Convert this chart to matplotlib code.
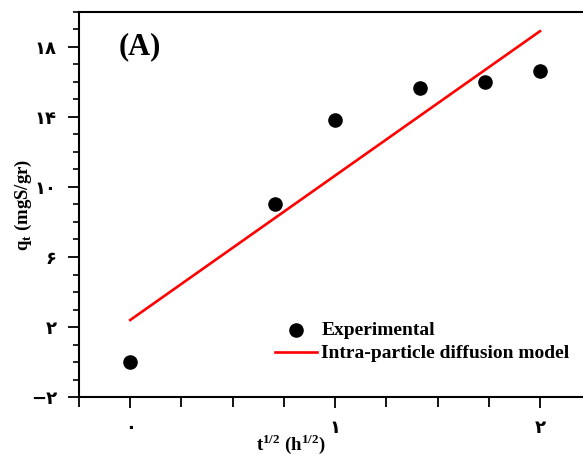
import matplotlib
matplotlib.use('Agg')
import matplotlib.pyplot as plt
from matplotlib.ticker import MultipleLocator, FixedLocator

# experimental points, x = sqrt(t)
t_sqrt = [0.0, 0.707, 1.0, 1.414, 1.732, 2.0]
q_t = [0.0, 9.0, 13.85, 15.65, 16.0, 16.6]

# intra-particle diffusion model line (endpoints)
model_x = [0.0, 2.0]
model_y = [2.4, 18.9]

x_ticks = [0, 1, 2]
x_tick_labels = ['۰', '۱', '۲']
y_ticks = [-2, 2, 6, 10, 14, 18]
y_tick_labels = ['−۲', '۲', '۶', '۱۰', '۱۴', '۱۸']

serif = ['Liberation Serif', 'DejaVu Sans']
digits = ['DejaVu Sans']

fig = plt.figure(figsize=(5.83, 4.59), dpi=100)
ax = fig.add_axes([0.1355, 0.135, 0.8645, 0.839])

ax.plot(model_x, model_y, color='#ff0000', linewidth=1.9, label='Intra-particle diffusion model', zorder=2)
ax.scatter(t_sqrt, q_t, s=90, color='black', label='Experimental', zorder=3)

ax.set_xlim(-0.25, 2.21)
ax.set_ylim(-2, 20)

ax.xaxis.set_major_locator(FixedLocator(x_ticks))
ax.xaxis.set_minor_locator(MultipleLocator(0.25))
ax.yaxis.set_major_locator(FixedLocator(y_ticks))
ax.yaxis.set_minor_locator(MultipleLocator(1))
ax.set_xticklabels(x_tick_labels, fontfamily=digits, fontweight='bold', fontsize=13)
ax.set_yticklabels(y_tick_labels, fontfamily=digits, fontweight='bold', fontsize=13)
ax.tick_params(axis='both', which='major', direction='out', length=8, width=1.3, pad=8)
ax.tick_params(axis='y', which='minor', direction='out', length=4.5, width=1.2)
ax.tick_params(axis='x', which='minor', direction='out', length=7, width=1.3)

for side in ['left', 'bottom', 'top']:
    ax.spines[side].set_linewidth(1.5)
ax.spines['right'].set_visible(False)

ax.set_ylabel('q$_\\mathregular{t}$ (mgS/gr)', fontfamily=serif, fontweight='bold', fontsize=13.5)
ax.yaxis.set_label_coords(-0.09, 0.5)
ax.set_xlabel('t$^\\mathregular{1/2}$ (h$^\\mathregular{1/2}$)', fontfamily=serif, fontweight='bold', fontsize=13.5)
ax.xaxis.set_label_coords(0.42, -0.092)

ax.text(-0.055, 18, '(A)', fontfamily=serif, fontweight='bold', fontsize=22, ha='left', va='center')

leg = ax.legend(handles=ax.get_legend_handles_labels()[0][::-1], loc='upper left',
                bbox_to_anchor=(0.361, 0.232), frameon=False,
                prop={'family': serif, 'weight': 'bold', 'size': 14},
                handlelength=2.2, handletextpad=0.2, labelspacing=0.3, borderpad=0.2)

fig.savefig('out.png', dpi=100)
